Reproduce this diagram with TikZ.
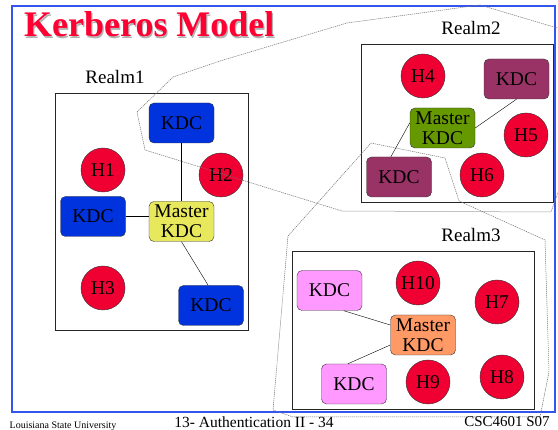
\documentclass[tikz,border=0pt]{standalone}
\usepackage{fontspec}
\setmainfont{Liberation Serif}
\definecolor{hostred}{RGB}{240,0,50}
\definecolor{kdcblue}{RGB}{0,51,221}
\definecolor{masteryellow}{RGB}{232,232,92}
\definecolor{kdcpurple}{RGB}{153,51,102}
\definecolor{mastergreen}{RGB}{102,153,0}
\definecolor{kdcpink}{RGB}{255,153,255}
\definecolor{masterorange}{RGB}{255,153,102}
\definecolor{frameblue}{RGB}{51,85,238}
\definecolor{titlered}{RGB}{255,0,51}
\begin{document}
\begin{tikzpicture}[x=1pt, y=-1pt,
  host/.style={circle, draw=black!80, fill=hostred, minimum size=44pt, inner sep=0pt, font=\fontsize{19.5}{20}\selectfont},
  kdc/.style={rectangle, rounded corners=5pt, draw=black!80, minimum width=65pt, minimum height=40pt, inner sep=0pt, align=center, font=\fontsize{19.5}{20}\selectfont},
  realm/.style={draw=black!85, line width=0.8pt},
  realmlabel/.style={inner sep=0pt, font=\fontsize{19}{20}\selectfont},
  zone/.style={draw=black!55, dash pattern=on 1.2pt off 0.8pt, line width=0.5pt},
  footer/.style={inner sep=0pt}]
\useasboundingbox (0,0) rectangle (558,430);
\fill[white] (0,0) rectangle (558,430);
\draw[frameblue, line width=1.6pt] (12,6) rectangle (555,412);
% title
\node[anchor=base west, inner sep=0pt, text=black!30, font=\fontsize{36}{37}\selectfont\bfseries] (titleshadow) at (25.2,38.2) {Kerberos Model};
\node[anchor=base west, inner sep=0pt, text=titlered, font=\fontsize{36}{37}\selectfont\bfseries] (title) at (24,37) {Kerberos Model};
% realm 1
\node[realmlabel] (realm1) at (115,77) {Realm1};
\draw[realm] (55,93) rectangle (248,330);
\node[kdc, fill=kdcblue] (kdcAtop) at (181.5,123) {KDC};
\node[host] (h1) at (103,170) {H1};
\node[host] (h2) at (221,175) {H2};
\node[kdc, fill=kdcblue] (kdcAleft) at (93,216.5) {KDC};
\node[kdc, fill=masteryellow] (masterA) at (181.5,221.5) {Master\\KDC};
\node[host] (h3) at (103,288) {H3};
\node[kdc, fill=kdcblue] (kdcAbottom) at (211,305.5) {KDC};
\draw[](kdcAtop) -- (masterA);
\draw[](kdcAleft) -- (kdcAleft -| masterA.west);
\draw[](masterA.south) -- (kdcAbottom.98);
% realm 2
\node[realmlabel] (realm2) at (471,28) {Realm2};
\draw[realm] (361,44) rectangle (553,202);
\node[host] (h4) at (423,76) {H4};
\node[kdc, fill=kdcpurple] (kdcBtop) at (516.5,79) {KDC};
\node[kdc, fill=mastergreen] (masterB) at (442.5,128) {Master\\KDC};
\node[host] (h5) at (526,135) {H5};
\node[host] (h6) at (482,175) {H6};
\node[kdc, fill=kdcpurple] (kdcBbottom) at (399,177) {KDC};
\draw[](kdcBtop.south) -- (masterB.east);
\draw[](masterB.171) -- (kdcBbottom.112);
% realm 3
\node[realmlabel] (realm3) at (471,235) {Realm3};
\draw[realm] (292,251) rectangle (534,409);
\node[kdc, fill=kdcpink] (kdcCtop) at (329.5,290.5) {KDC};
\node[host] (h10) at (418,283) {H10};
\node[host] (h7) at (497,302) {H7};
\node[kdc, fill=masterorange] (masterC) at (423,335) {Master\\KDC};
\node[kdc, fill=kdcpink] (kdcCbottom) at (354,384) {KDC};
\node[host] (h9) at (428,382) {H9};
\node[host] (h8) at (502,377) {H8};
\draw[](kdcCtop.-55) -- (masterC.163);
\draw[](kdcCbottom.107) -- (masterC.197);
% cross-realm zones
\draw[zone] (137,112) -- (173,77) -- (220,61) -- (347,23) -- (480,5) -- (564,30)
  -- (564,176) -- (551,212) -- (342,211) -- (145,150) -- cycle;
\draw[zone] (371,143) -- (445,158) -- (459,201) -- (545,240) -- (549,372) -- (540,417)
  -- (293,417) -- (273,410) -- (288,236) -- cycle;
% footer
\node[footer, font=\fontsize{10}{11}\selectfont] (univ) at (63,426) {Louisiana State University};
\node[footer, font=\fontsize{15.5}{16}\selectfont] (slide) at (254,422) {13- Authentication II - 34};
\node[footer, font=\fontsize{15}{16}\selectfont] (course) at (507,422) {CSC4601 S07};
\end{tikzpicture}
\end{document}
